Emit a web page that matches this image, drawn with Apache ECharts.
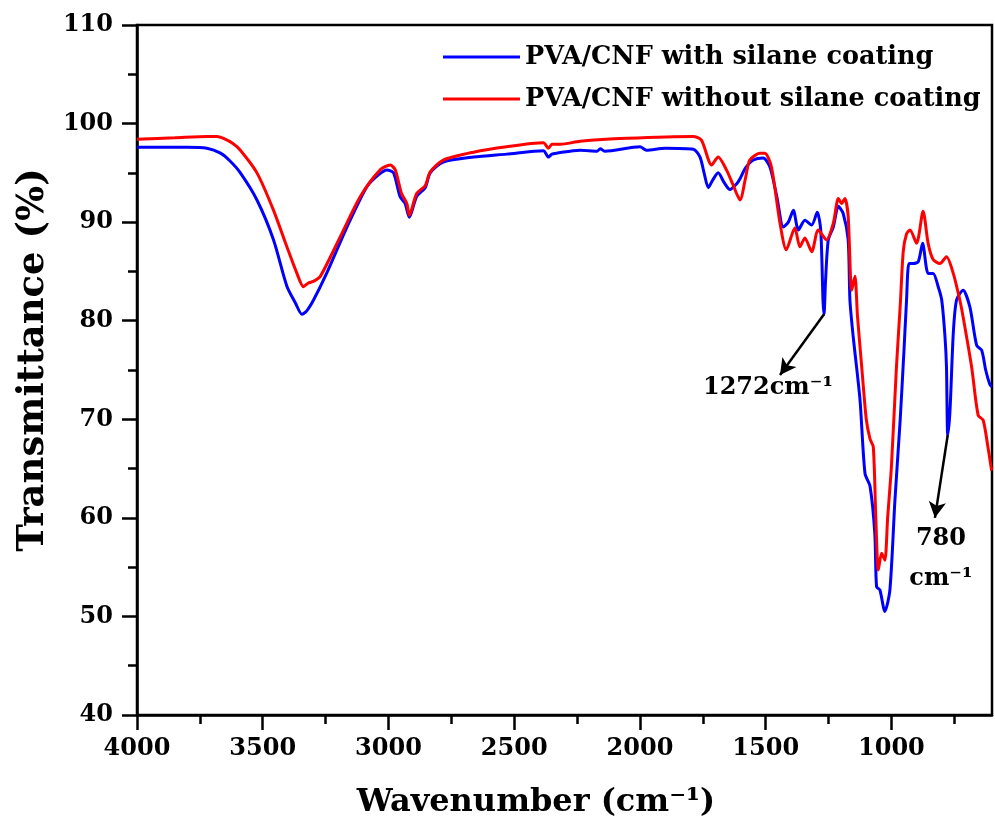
<!DOCTYPE html>
<html>
<head>
<meta charset="utf-8">
<script src="https://cdn.jsdelivr.net/npm/echarts@6/dist/echarts.min.js"></script>
<style>
html,body{margin:0;padding:0;background:#fff;}
#chart{width:995px;height:832px;}
</style>
</head>
<body>
<div id="chart"></div>
<script>
// ---- Data ----
var seriesNames = ['PVA/CNF with silane coating', 'PVA/CNF without silane coating'];

var blueWave = [4000,3900,3800,3722,3668,3630,3589,3523,3457,3404,3370,3344,3325,3298,3246,3165,3086,3040,3006,2980,2954,2934,2917,2888,2854,2834,2782,2662,2530,2384,2364,2350,2331,2238,2170,2158,2140,2000,1974,1900,1788,1761,1745,1728,1710,1689,1665,1642,1615,1602,1580,1549,1510,1483,1455,1430,1410,1390,1370,1344,1317,1295,1281,1272,1268,1262,1251,1231,1211,1192,1172,1165,1152,1125,1105,1085,1066,1059,1046,1026,1006,986,965,950,940,930,913,893,876,854,834,814,800,787,781,776,767,754,741,715,688,661,641,625,608,600];
var blueT    = [97.6,97.6,97.6,97.5,97.0,96.2,95.0,92.25,88.2,83.5,81.8,80.65,81.0,82.1,84.8,89.5,93.6,94.8,95.3,95.0,92.6,91.9,90.5,92.6,93.5,95.0,96.1,96.6,96.9,97.25,96.6,96.9,97.0,97.3,97.2,97.45,97.2,97.65,97.3,97.5,97.4,96.6,95.0,93.5,94.3,95.0,94.0,93.3,93.9,94.4,95.5,96.3,96.5,95.6,92.5,89.5,90.0,91.2,89.2,90.2,89.7,91.0,89.2,82.0,80.65,84.0,88.2,89.5,91.6,90.9,88.2,82.1,78.4,72.0,64.5,63.2,58.4,53.0,52.7,50.5,52.7,61.8,70.0,77.0,82.0,85.8,85.8,86.0,87.85,84.8,84.8,83.45,82.1,78.4,75.3,68.4,70.9,78.7,82.1,83.1,81.4,77.5,77.0,75.0,73.5,73.3];

var redWave = [4000,3850,3720,3682,3656,3620,3589,3523,3457,3404,3364,3338,3320,3298,3271,3192,3112,3033,2993,2973,2948,2927,2917,2888,2854,2834,2782,2662,2530,2384,2364,2350,2317,2238,2053,1788,1755,1715,1689,1656,1630,1602,1580,1563,1523,1503,1477,1443,1418,1384,1364,1344,1317,1291,1258,1231,1211,1198,1185,1172,1158,1145,1135,1118,1100,1085,1072,1062,1052,1039,1026,1015,1000,980,965,953,940,926,900,874,854,834,807,781,754,728,715,681,655,635,615,602,600];
var redT    = [98.4,98.55,98.7,98.7,98.5,98.0,97.3,95.0,91.2,87.5,84.8,83.45,83.8,84.0,84.5,88.5,92.6,95.3,95.8,95.3,92.9,91.9,90.7,92.9,93.7,95.1,96.3,97.1,97.65,98.05,97.5,97.9,97.9,98.2,98.5,98.7,98.3,95.8,96.6,95.3,93.8,92.25,94.5,96.3,97.0,97.0,95.6,89.9,87.2,89.4,87.5,88.4,87.0,89.2,88.2,89.9,92.4,91.9,92.4,90.6,83.1,84.5,80.5,75.3,70.0,68.0,67.2,60.0,54.7,56.4,55.7,60.0,65.2,75.3,81.5,87.0,88.8,89.2,87.85,91.1,87.85,86.2,85.8,86.5,84.8,82.1,80.4,75.3,70.4,69.9,67.0,64.9,64.8];

var xTickLabels = [4000,3500,3000,2500,2000,1500,1000];
var xMinorTicks = [3750,3250,2750,2250,1750,1250,750];

// annotation arrows: [from, to] in data units
var arrow1272 = [[1268, 80.65], [1443, 74.5]];
var arrow780  = [[776, 68.4], [827, 60.0]];
var label1272 = [1491, 73.2];
var label780  = [803, 55.9];

function pairs(xs, ys){ var o=[]; for(var i=0;i<xs.length;i++){o.push([xs[i], ys[i]]);} return o; }

var FONT = 'DejaVu Serif';
var chart = echarts.init(document.getElementById('chart'), null, {renderer:'canvas'});

var axisLineStyle = {color:'#000', width:2.5};

chart.setOption({
  backgroundColor:'#fff',
  animation:false,
  grid:{left:137, right:3, top:25, bottom:117, show:true, borderColor:'#000', borderWidth:2.5, backgroundColor:'transparent'},
  legend:{
    data: seriesNames,
    orient:'vertical', left:438, top:37, itemWidth:77, itemHeight:3, itemGap:12, icon:'rect',
    textStyle:{fontFamily:FONT, fontWeight:'bold', fontSize:25.5, color:'#000', lineHeight:30}
  },
  xAxis:[{
    type:'value', inverse:true, min:600, max:4000,
    axisLine:{show:true, onZero:false, lineStyle:axisLineStyle},
    axisTick:{show:true, length:15, lineStyle:{color:'#000', width:2.5}, customValues:xTickLabels},
    axisLabel:{show:true, margin:22, fontFamily:FONT, fontWeight:'bold', fontSize:24, color:'#000', customValues:xTickLabels,
               formatter:function(v){return String(v);}},
    splitLine:{show:false}
  },{
    type:'value', inverse:true, min:600, max:4000, position:'bottom',
    axisLine:{show:false},
    axisTick:{show:true, length:9, lineStyle:{color:'#000', width:2.5}, customValues:xMinorTicks},
    axisLabel:{show:false},
    splitLine:{show:false}
  }],
  yAxis:{
    type:'value', min:40, max:110, interval:10,
    axisLine:{show:true, onZero:false, lineStyle:axisLineStyle},
    axisTick:{show:true, length:15, lineStyle:{color:'#000', width:2.5}},
    minorTick:{show:true, splitNumber:2, length:9, lineStyle:{color:'#000', width:2.5}},
    axisLabel:{margin:24, fontFamily:FONT, fontWeight:'bold', fontSize:24, color:'#000'},
    splitLine:{show:false}
  },
  series:[{
    name:seriesNames[0], type:'line', data:pairs(blueWave, blueT), showSymbol:false, symbol:'none',
    smooth:0.25, color:'#0000FF', lineStyle:{width:3, color:'#0000FF'}, z:2,
    markLine:{
      silent:true, symbol:['none','arrow'], symbolSize:[13,16], animation:false,
      lineStyle:{color:'#000', width:2.5, type:'solid'}, label:{show:false},
      data:[
        [{coord:arrow1272[0]},{coord:arrow1272[1]}],
        [{coord:arrow780[0]},{coord:arrow780[1]}]
      ]
    },
    markPoint:{
      silent:true, symbol:'circle', symbolSize:1, itemStyle:{color:'rgba(0,0,0,0)'},
      label:{show:true, position:'inside', fontFamily:FONT, fontWeight:'bold', fontSize:24, color:'#000', lineHeight:40},
      data:[
        {coord:label1272, value:'1272cm⁻¹', label:{formatter:'1272cm⁻¹'}},
        {coord:label780, value:'780', label:{formatter:'780\ncm⁻¹'}}
      ]
    }
  },{
    name:seriesNames[1], type:'line', data:pairs(redWave, redT), showSymbol:false, symbol:'none',
    smooth:0.25, color:'#FF0000', lineStyle:{width:3, color:'#FF0000'}, z:3
  }],
  graphic:[
    {type:'text', x:33, y:360, rotation:Math.PI/2,
     style:{text:'Transmittance (%)', font:'bold 37px "DejaVu Serif"', fill:'#000', textAlign:'center', textVerticalAlign:'middle'}},
    {type:'text', x:536, y:803,
     style:{text:'Wavenumber (cm⁻¹)', font:'bold 32px "DejaVu Serif"', fill:'#000', textAlign:'center', textVerticalAlign:'middle'}}
  ]
});
</script>
</body>
</html>
